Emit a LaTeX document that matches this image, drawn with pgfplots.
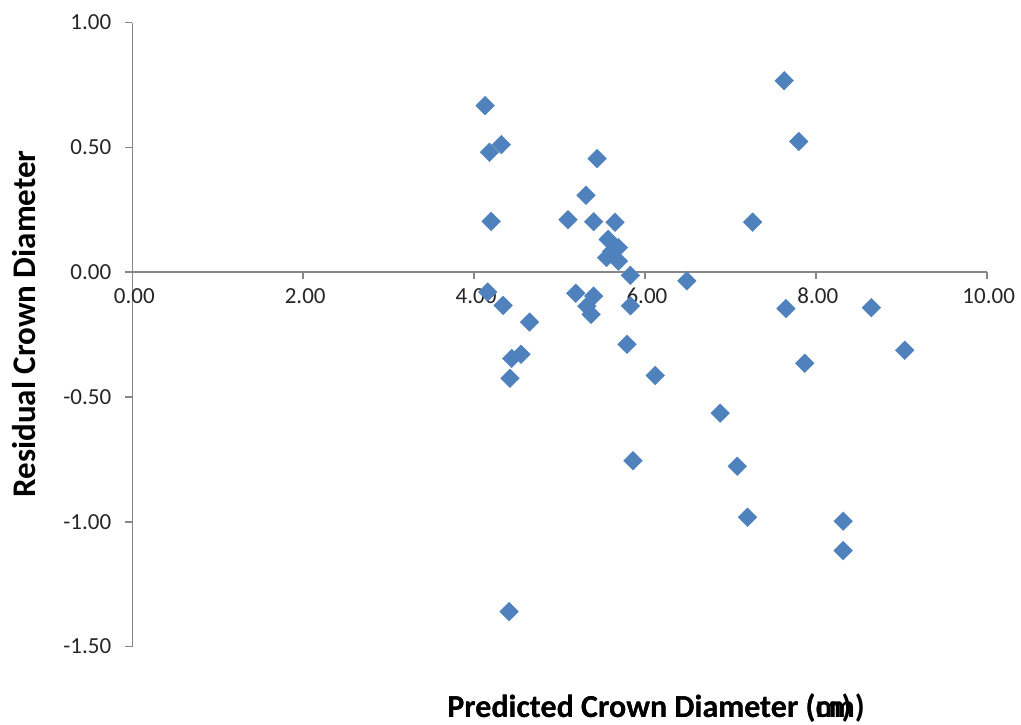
\documentclass[border=0pt]{standalone}
\usepackage{pgfplots}
\pgfplotsset{compat=1.18}
\usepackage{fontspec}
\setmainfont{Carlito}
\definecolor{mk}{HTML}{4F81BD}
\definecolor{ax}{HTML}{868686}
\begin{document}
\begin{tikzpicture}
\useasboundingbox (0,0) rectangle (510.5pt,362pt);
\begin{axis}[
  scale only axis,
  width=427.2pt, height=312pt,
  at={(66.15pt,38.75pt)}, anchor=south west,
  xmin=0, xmax=10, ymin=-1.5, ymax=1,
  axis x line=middle, axis y line=left,
  axis line style={-, draw=ax, line width=0.8pt},
  tick style={draw=ax, line width=0.8pt},
  tick align=outside,
  major tick length=3.5pt,
  hide obscured x ticks=false, hide obscured y ticks=false,
  xtick={0,2,4,6,8,10},
  ytick={-1.5,-1,-0.5,0,0.5,1},
  minor tick num=0,
  /pgf/number format/assume math mode=true,
  /pgf/number format/fixed, /pgf/number format/fixed zerofill,
  /pgf/number format/precision=2,
  tick label style={font=\fontsize{11.5}{13}\selectfont, text=black!85},
  xticklabel style={yshift=-1pt, xshift=1pt},
  yticklabel style={xshift=-3.5pt},
  clip=false,
]
\addplot[only marks, mark=square*, mark size=3.3pt,
  mark options={rotate=45, fill=mk, draw=mk, line width=0.2pt}]
coordinates {
(4.13,0.667) (4.18,0.480) (4.32,0.511) (5.44,0.455) (5.31,0.308)
(4.20,0.203) (5.10,0.210) (5.40,0.202) (5.65,0.200) (5.57,0.131)
(5.69,0.098) (5.55,0.058) (5.69,0.044) (5.61,0.083) (5.83,-0.013)
(6.49,-0.035) (4.16,-0.080) (4.34,-0.133) (4.65,-0.200) (5.19,-0.085)
(5.40,-0.096) (5.32,-0.136) (5.37,-0.169) (5.83,-0.135) (5.79,-0.289)
(4.44,-0.346) (4.55,-0.329) (4.42,-0.425) (6.12,-0.414) (5.86,-0.756)
(4.41,-1.360) (7.63,0.767) (7.80,0.523) (7.26,0.200) (7.65,-0.146)
(8.65,-0.142) (9.04,-0.313) (7.87,-0.365) (6.88,-0.565) (7.08,-0.778)
(7.20,-0.982) (8.32,-0.998) (8.32,-1.116)
};
\end{axis}
\node[rotate=90, font=\fontsize{16.5}{18}\selectfont\bfseries] at (12pt,200pt) {Residual Crown Diameter};
\node[anchor=base west, inner sep=0pt, font=\fontsize{16}{18}\selectfont\bfseries] at (223.5pt,3.5pt) {Predicted Crown Diameter (m)};
\node[anchor=base west, inner sep=0pt, font=\fontsize{16}{18}\selectfont\bfseries] at (223.5pt,3.5pt) {Predicted Crown Diameter (cm)};
\end{tikzpicture}
\end{document}
